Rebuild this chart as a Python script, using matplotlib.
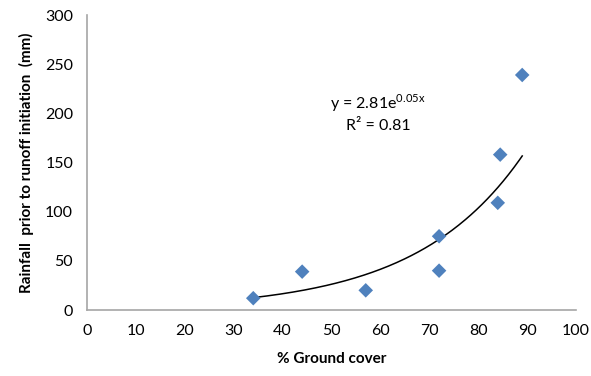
import numpy as np
import matplotlib.pyplot as plt

plt.rcParams['font.family'] = ['Lato', 'DejaVu Sans']
plt.rcParams['mathtext.fontset'] = 'custom'
plt.rcParams['mathtext.rm'] = 'Lato'

# data
ground_cover = [34, 44, 57, 72, 72, 84.5, 84, 89]
rainfall = [12, 39, 20, 75, 40, 158, 109, 239]

# exponential trendline fitted on log(y)
b, log_a = np.polyfit(ground_cover, np.log(rainfall), 1)
xt = np.linspace(min(ground_cover), max(ground_cover), 200)
yt = np.exp(log_a) * np.exp(b * xt)

fig = plt.figure(figsize=(5.91, 3.76), dpi=100)
ax = fig.add_axes([87/591, 66/376, 489/591, 295/376])

ax.plot(xt, yt, color='black', lw=1.1, zorder=2)
ax.scatter(ground_cover, rainfall, marker='D', s=55, color='#4F81BD', edgecolors='none', zorder=3)

ax.text(59.5, 210, r'y = 2.81e$^{\mathrm{0.05x}}$', ha='center', va='center', fontsize=11.5)
ax.text(59.5, 187, 'R² = 0.81', ha='center', va='center', fontsize=11.5)

ax.set_xlim(0, 100)
ax.set_ylim(0, 300)
ax.set_xticks(range(0, 101, 10))
ax.set_yticks(range(0, 301, 50))
ax.tick_params(length=0, labelsize=11.5, pad=10)
for s in ['top', 'right']:
    ax.spines[s].set_visible(False)
for s in ['left', 'bottom']:
    ax.spines[s].set_color('#A6A6A6')
    ax.spines[s].set_linewidth(1.2)

ax.set_xlabel('% Ground cover', fontsize=11, fontweight='bold', labelpad=10)
ax.set_ylabel('Rainfall  prior to runoff initiation  (mm)', fontsize=11, fontweight='bold', labelpad=8)

fig.savefig('out.png', dpi=100)
